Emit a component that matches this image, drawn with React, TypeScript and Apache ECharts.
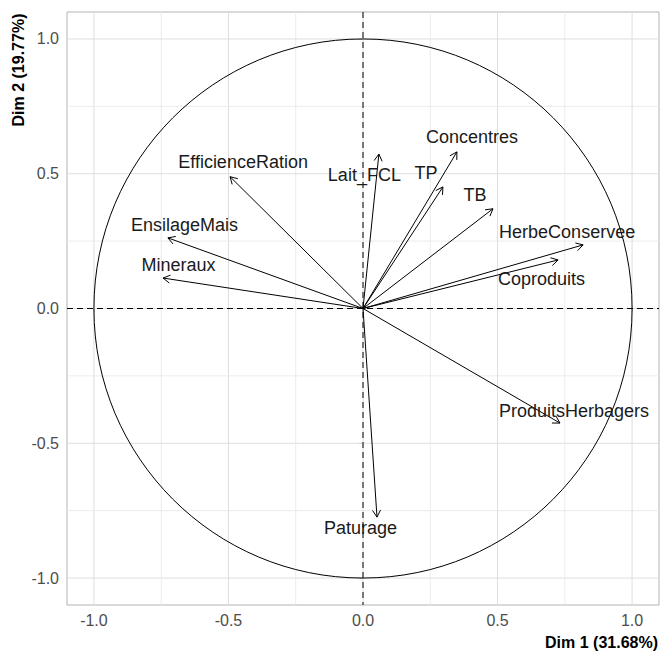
import React, { useEffect, useRef } from "react";
import * as echarts from "echarts";

// Variables of the PCA correlation circle
const variables = [
  "Lait_FCL",
  "TB",
  "TP",
  "EfficienceRation",
  "Concentres",
  "EnsilageMais",
  "HerbeConservee",
  "Coproduits",
  "Mineraux",
  "ProduitsHerbagers",
  "Paturage",
];
// Coordinates on Dim 1 and Dim 2
const dim1 = [0.059, 0.483, 0.297, -0.494, 0.349, -0.725, 0.818, 0.725, -0.743, 0.732, 0.052];
const dim2 = [0.573, 0.37, 0.451, 0.489, 0.581, 0.262, 0.236, 0.18, 0.113, -0.425, -0.774];

// Label offsets from the arrow tip (pixels, repelled placement)
const labelDx = [-14.5, -18, -17, 13, 15, 16.5, -16, -16.5, 15.5, 14, -16.5];
const labelDy = [21, -14, -14, -15, -15, -13, -13, 19, -13, -12, 11];

const tickValues = [-1, -0.5, 0, 0.5, 1];
const gridValues = [-1, -0.75, -0.5, -0.25, 0, 0.25, 0.5, 0.75, 1];

const xTitle = "Dim 1 (31.68%)";
const yTitle = "Dim 2 (19.77%)";

export default function App() {
  const ref = useRef<HTMLDivElement>(null);

  useEffect(() => {
    const chart = echarts.init(ref.current!, null, { renderer: "svg" });
    const font = "'Liberation Sans', Arial, Helvetica, sans-serif";

    const axisCommon = {
      type: "value",
      min: -1.1,
      max: 1.1,
      axisLine: { show: false },
      splitLine: { show: false },
      axisTick: {
        show: true,
        customValues: tickValues,
        length: 4,
        lineStyle: { color: "#b3b3b3", width: 1 },
      },
      axisLabel: {
        customValues: tickValues,
        formatter: (v: number) => v.toFixed(1),
        color: "#4d4d4d",
        fontSize: 16,
        fontFamily: font,
      },
    };

    const option: any = {
      animation: false,
      backgroundColor: "#ffffff",
      grid: {
        left: 67,
        right: 1,
        top: 12,
        bottom: 47,
        show: true,
        borderColor: "#b3b3b3",
        borderWidth: 1,
        backgroundColor: "transparent",
      },
      xAxis: { ...axisCommon, axisLabel: { ...axisCommon.axisLabel, margin: 7 } },
      yAxis: { ...axisCommon, axisLabel: { ...axisCommon.axisLabel, margin: 8 } },
      graphic: [
        {
          type: "text",
          x: 658,
          y: 642,
          style: {
            text: xTitle,
            align: "right",
            verticalAlign: "middle",
            fontSize: 16,
            fontWeight: "bold",
            fontFamily: font,
            fill: "#000000",
          },
        },
        {
          type: "text",
          x: 18.5,
          y: 70,
          rotation: Math.PI / 2,
          style: {
            text: yTitle,
            align: "center",
            verticalAlign: "middle",
            fontSize: 16,
            fontWeight: "bold",
            fontFamily: font,
            fill: "#000000",
          },
        },
      ],
      series: [
        {
          type: "custom",
          z: 1,
          silent: true,
          data: gridValues.map((v) => [v, v]),
          renderItem: (params: any, api: any) => {
            const v = api.value(0);
            const cs = params.coordSys;
            const p = api.coord([v, v]);
            const major = Math.abs(v * 2 - Math.round(v * 2)) < 1e-6;
            const stroke = major ? "#dedede" : "#ebebeb";
            return {
              type: "group",
              children: [
                {
                  type: "line",
                  shape: { x1: p[0], y1: cs.y, x2: p[0], y2: cs.y + cs.height },
                  style: { stroke, lineWidth: 1 },
                },
                {
                  type: "line",
                  shape: { x1: cs.x, y1: p[1], x2: cs.x + cs.width, y2: p[1] },
                  style: { stroke, lineWidth: 1 },
                },
              ],
            };
          },
        },
        {
          type: "custom",
          z: 2,
          silent: true,
          data: [[0, 0]],
          renderItem: (params: any, api: any) => {
            const cs = params.coordSys;
            const o = api.coord([0, 0]);
            const s = api.size([1, 1]);
            return {
              type: "group",
              children: [
                {
                  type: "ellipse",
                  shape: { cx: o[0], cy: o[1], rx: s[0], ry: s[1] },
                  style: { fill: "none", stroke: "#000000", lineWidth: 1 },
                },
                {
                  type: "line",
                  shape: { x1: cs.x, y1: o[1], x2: cs.x + cs.width, y2: o[1] },
                  style: { stroke: "#000000", lineWidth: 1, lineDash: [6, 4] },
                },
                {
                  type: "line",
                  shape: { x1: o[0], y1: cs.y, x2: o[0], y2: cs.y + cs.height },
                  style: { stroke: "#000000", lineWidth: 1, lineDash: [6, 4] },
                },
              ],
            };
          },
        },
        {
          type: "custom",
          z: 3,
          silent: true,
          data: variables.map((name, i) => [dim1[i], dim2[i], i]),
          renderItem: (params: any, api: any) => {
            const i = api.value(2);
            const o = api.coord([0, 0]);
            const t = api.coord([api.value(0), api.value(1)]);
            const ang = Math.atan2(t[1] - o[1], t[0] - o[0]);
            const L = 8;
            const a = Math.PI / 6;
            const p1 = [t[0] - L * Math.cos(ang - a), t[1] - L * Math.sin(ang - a)];
            const p2 = [t[0] - L * Math.cos(ang + a), t[1] - L * Math.sin(ang + a)];
            return {
              type: "group",
              children: [
                {
                  type: "line",
                  shape: { x1: o[0], y1: o[1], x2: t[0], y2: t[1] },
                  style: { stroke: "#000000", lineWidth: 1 },
                },
                {
                  type: "polyline",
                  shape: { points: [p1, t, p2] },
                  style: { stroke: "#000000", lineWidth: 1, fill: "none" },
                },
                {
                  type: "text",
                  x: t[0] + labelDx[i],
                  y: t[1] + labelDy[i],
                  style: {
                    text: variables[i],
                    align: "center",
                    verticalAlign: "middle",
                    fontSize: 18,
                    fontFamily: font,
                    fill: "#1a1a1a",
                  },
                },
              ],
            };
          },
        },
      ],
    };

    chart.setOption(option);
    return () => {
      chart.dispose();
    };
  }, []);

  return (
    <div
      ref={ref}
      style={{ position: "absolute", left: 0, top: 0, width: 660, height: 652 }}
    />
  );
}
